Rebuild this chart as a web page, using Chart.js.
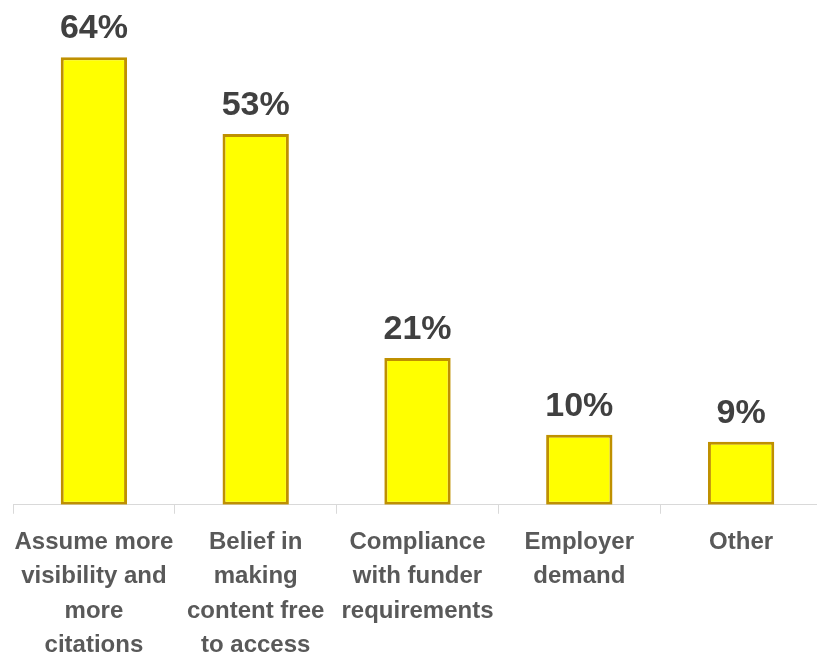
<!DOCTYPE html>
<html>
<head>
<meta charset="utf-8">
<script src="https://cdn.jsdelivr.net/npm/chart.js@4/dist/chart.umd.min.js"></script>
<style>
  html, body { margin: 0; padding: 0; background: #fff; overflow: hidden; }
  #wrap { position: relative; width: 822px; height: 674px; }
</style>
</head>
<body>
<div id="wrap"><canvas id="chart"></canvas></div>
<script>
var categories = [
    ["Assume more", "visibility and", "more", "citations"],
    ["Belief in", "making", "content free", "to access"],
    ["Compliance", "with funder", "requirements"],
    ["Employer", "demand"],
    ["Other"]
];
var percentValues = [64, 53, 21, 10, 9];

// draws the "64%" style labels above each bar
var valueLabels = {
    id: "valueLabels",
    afterDatasetsDraw: function(chart) {
        var ctx = chart.ctx;
        var meta = chart.getDatasetMeta(0);
        ctx.save();
        ctx.font = "bold 34px 'Liberation Sans', Arial, sans-serif";
        ctx.fillStyle = "#404040";
        ctx.textAlign = "center";
        ctx.textBaseline = "alphabetic";
        meta.data.forEach(function(bar, i) {
            ctx.fillText(percentValues[i] + "%", bar.x, bar.y - 19);
        });
        ctx.restore();
    }
};

var myChart = new Chart(document.getElementById("chart"), {
    type: "bar",
    data: {
        labels: categories,
        datasets: [{
            data: percentValues,
            backgroundColor: "#FFFF00",
            borderColor: "#BF9000",
            borderWidth: 3,
            borderSkipped: false,
            categoryPercentage: 1,
            barPercentage: 0.41
        }]
    },
    options: {
        responsive: true,
        maintainAspectRatio: false,
        animation: false,
        layout: { padding: { top: 18, left: 13, right: 0, bottom: 0 } },
        plugins: {
            legend: { display: false },
            tooltip: { enabled: false }
        },
        scales: {
            y: { display: false, min: 0, max: 69.6 },
            x: {
                grid: {
                    drawOnChartArea: false,
                    color: "#D9D9D9",
                    tickLength: 9
                },
                border: { color: "#D9D9D9", width: 1 },
                ticks: {
                    color: "#595959",
                    font: { family: "'Liberation Sans', Arial, sans-serif", size: 24, weight: "bold", lineHeight: 1.44 },
                    padding: 11,
                    maxRotation: 0,
                    autoSkip: false
                }
            }
        }
    },
    plugins: [valueLabels]
});
</script>
</body>
</html>
